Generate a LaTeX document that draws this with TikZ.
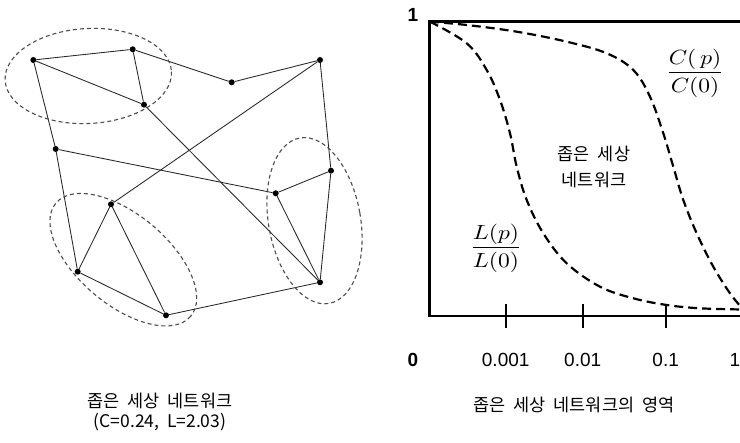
\documentclass[tikz,border=0pt]{standalone}
\usepackage{fontspec}
\setmainfont{Liberation Sans}
\newfontfamily\kr[WordSpace=2]{Noto Sans CJK KR}
\usepackage{graphicx}
\begin{document}
\begin{tikzpicture}[x=1pt,y=-1pt,
  netdot/.style={circle,fill=black,inner sep=0pt,minimum size=6pt},
  netedge/.style={line width=0.85pt,black!85},
  cluster/.style={dash pattern=on 4pt off 3pt,line width=1.1pt,black!70},
  curveline/.style={line width=2.2pt,dash pattern=on 9pt off 5pt},
  frameline/.style={line width=2.6pt},
  tickmark/.style={line width=2pt},
  num/.style={font=\fontsize{19}{22}\selectfont,inner sep=0pt},
  numb/.style={font=\fontsize{19}{22}\selectfont\bfseries,inner sep=0pt},
  krlabel/.style={font=\kr\fontsize{17.5}{20}\selectfont,align=center,inner sep=0pt}]
\useasboundingbox (0,0) rectangle (740,443);
\fill[white] (0,0) rectangle (740,443);

% ---- network ----
\node[netdot] (A) at (33.3,60) {};
\node[netdot] (B) at (132.7,49.3) {};
\node[netdot] (C) at (144,104.7) {};
\node[netdot] (D) at (231.7,82.3) {};
\node[netdot] (E) at (320,60) {};
\node[netdot] (F) at (55.7,149) {};
\node[netdot] (G) at (331,170.7) {};
\node[netdot] (H) at (275.7,193.3) {};
\node[netdot] (I) at (111,204.3) {};
\node[netdot] (J) at (77.7,271.7) {};
\node[netdot] (K) at (166,315.3) {};
\node[netdot] (M) at (320,282.3) {};

\draw[netedge] (A) -- (B);
\draw[netedge] (B) -- (C);
\draw[netedge] (A) -- (C);
\draw[netedge] (B) -- (D);
\draw[netedge] (D) -- (E);
\draw[netedge] (A) -- (F);
\draw[netedge] (F) -- (J);
\draw[netedge] (C) -- (M);
\draw[netedge] (E) -- (I);
\draw[netedge] (E) -- (G);
\draw[netedge] (F) -- (H);
\draw[netedge] (H) -- (G);
\draw[netedge] (H) -- (M);
\draw[netedge] (G) -- (M);
\draw[netedge] (I) -- (J);
\draw[netedge] (I) -- (K);
\draw[netedge] (J) -- (K);
\draw[netedge] (K) -- (M);

\draw[cluster,rotate around={3:(88.3,76)}] (88.3,76) ellipse [x radius=83.3,y radius=47.5];
\draw[cluster,rotate around={-40:(123.3,259.7)}] (123.3,259.7) ellipse [x radius=88,y radius=45];
\draw[cluster,rotate around={10:(314.5,220.7)}] (314.5,220.7) ellipse [x radius=46,y radius=84];

% ---- graph ----
\draw[frameline] (746,21.7) -- (429.3,21.7) -- (429.3,316) -- (746,316);
\draw[tickmark] (505.7,304) -- (505.7,328.5);
\draw[tickmark] (582.7,304) -- (582.7,328.5);
\draw[tickmark] (665.7,304) -- (665.7,328.5);

\draw[curveline] plot[smooth,tension=0.6] coordinates {
 (430,21.7) (466.7,43.3) (486.7,70) (500,100) (510,133.3) (516.7,166.7)
 (526.7,200) (543.3,233.3) (566.7,263.3) (600,286.7) (633.3,298.3)
 (666.7,305) (700,308.3) (742,309.5)};
\draw[curveline] plot[smooth,tension=0.6] coordinates {
 (430,21.7) (466.7,25) (516.7,31.7) (566.7,41.7) (606.7,53.3) (633.3,70)
 (650,96.7) (663.3,133.3) (673.3,166.7) (683.3,200) (696.7,233.3)
 (713.3,266.7) (730,293.3) (742,308)};

\node[numb] (one) at (413,15) {1};
\node[numb] (zero) at (413,360) {0};
\node[num] (t1) at (505.7,360) {0.001};
\node[num] (t2) at (582.7,360) {0.01};
\node[num] (t3) at (665.7,360) {0.1};
\node[num] (t4) at (735,360) {1};

\node[inner sep=0pt] (cfrac) at (695,73) {\scalebox{2.35}[2.05]{$\displaystyle\frac{C(\,p)}{C(0)}$}};
\node[inner sep=0pt] (lfrac) at (496,248) {\scalebox{2.35}[2.05]{$\displaystyle\frac{L(p)}{L(0)}$}};

\node[krlabel,font=\kr\fontsize{17.5}{26}\selectfont] (mid) at (594,167) {좁은 세상\\네트워크};
\node[krlabel] (capl) at (160,412) {좁은 세상 네트워크\\(C=0.24, L=2.03)};
\node[krlabel] (capr) at (574,405) {좁은 세상 네트워크의 영역};
\end{tikzpicture}
\end{document}
